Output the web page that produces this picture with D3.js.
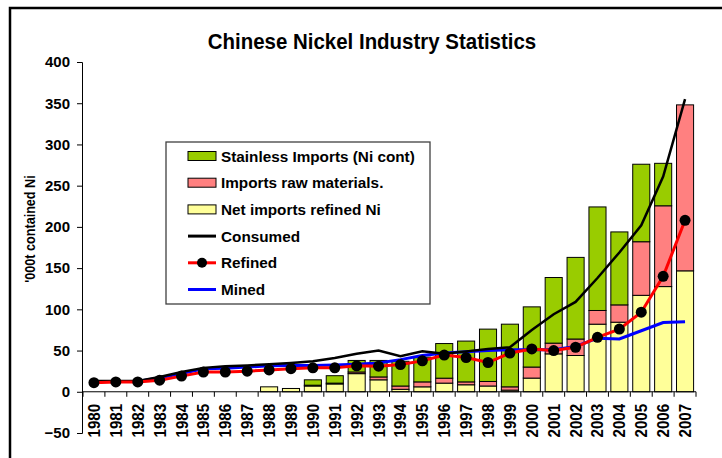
<!DOCTYPE html>
<html>
<head>
<meta charset="utf-8">
<script src="https://cdn.jsdelivr.net/npm/d3@7"></script>
<style>
  body { margin: 0; background: #fff; }
  text { font-family: "Liberation Sans", Arial, sans-serif; font-weight: bold; fill: #000; }
</style>
</head>
<body>
<div id="chart"></div>
<script>
// chart data, '000t contained Ni
var years = ["1980","1981","1982","1983","1984","1985","1986","1987","1988","1989",
             "1990","1991","1992","1993","1994","1995","1996","1997","1998","1999",
             "2000","2001","2002","2003","2004","2005","2006","2007"];
var netRefined = [0,0,0,0,0,0,0,0,6,4,
                  7,9.5,22,14.5,3,6,10.5,8.5,7,2,
                  16.6,46,44,82,84.4,117,127.6,146.7];
var rawMaterials = [0,0,0,0,0,0,0,0,0,0,
                    1,1,2,3.5,4,6,6,3.5,5.5,4,
                    13.4,13,20,16.6,21,65,98,201.3];
var stainless = [0,0,0,0,0,0,0,0,0,0,
                 6.5,9,14,20,30,30,42,49.5,63.5,76,
                 73,79.6,99,125.6,88.5,94,51.5,0];
var consumed = [13,13,13,18,24,29,31,32,33.5,35,
                37,41,46,50,43,49,46,49,52,54,
                75,94,109,138,169,202,261,355];
var refined = [11,12,12,14,19,24,24,25,26.5,28,
               29,29,31.5,31,33,37.5,44.5,41.5,35.5,47,
               52,50,54,66,76,96.5,140,208];
var mined = [12.5,12.5,12.5,17,22,28,28.5,30,31.5,32,
             32,32.5,33.5,35,39,44,47,48.5,50,51,
             51,51,55,65,64,74,84,85];
var yTicks = [-50,0,50,100,150,200,250,300,350,400];

var barKeys = ["net","raw","stain"];
var barColors = {net: "#FFFF99", raw: "#FF8080", stain: "#99CC00"};

var width = 722, height = 458;

var svg = d3.select("#chart").append("svg")
  .attr("width", width)
  .attr("height", height);

// outer frame
svg.append("rect")
  .attr("x", 10).attr("y", 8)
  .attr("width", 760).attr("height", 500)
  .attr("fill", "none")
  .attr("stroke", "#000")
  .attr("stroke-width", 2.5);

var x = d3.scaleBand().domain(years).range([83, 696]).paddingInner(0.22).paddingOuter(0.11);
var y = d3.scaleLinear().domain([-50, 400]).range([433, 62]);

// build rows for the stack
var rows = years.map(function(yr, i) {
  return {year: yr, net: netRefined[i], raw: rawMaterials[i], stain: stainless[i]};
});
var stacked = d3.stack().keys(barKeys)(rows);

svg.append("g")
  .selectAll("g")
  .data(stacked)
  .enter().append("g")
  .attr("fill", function(d) { return barColors[d.key]; })
  .selectAll("rect")
  .data(function(d) { return d.filter(function(p) { return p[1] - p[0] > 0; }); })
  .enter().append("rect")
  .attr("x", function(d) { return x(d.data.year); })
  .attr("y", function(d) { return y(d[1]); })
  .attr("width", x.bandwidth())
  .attr("height", function(d) { return y(d[0]) - y(d[1]); })
  .attr("stroke", "#000")
  .attr("stroke-width", 1);

// y axis
var yAxis = svg.append("g")
  .attr("transform", "translate(82,0)")
  .call(d3.axisLeft(y).tickValues(yTicks).tickSize(5).tickPadding(7));
yAxis.select(".domain").attr("stroke", "#000");
yAxis.selectAll("text").style("font-size", "15px").style("font-family", "Liberation Sans, Arial, sans-serif").style("font-weight", "bold");

// x axis at zero, ticks between categories
svg.append("line")
  .attr("x1", 83).attr("x2", 696)
  .attr("y1", y(0)).attr("y2", y(0))
  .attr("stroke", "#000");
svg.append("g")
  .selectAll("line")
  .data(years.concat(["end"]))
  .enter().append("line")
  .attr("x1", function(d, i) { return i < years.length ? x(d) - x.step() * x.paddingInner() / 2 : 696; })
  .attr("x2", function(d, i) { return i < years.length ? x(d) - x.step() * x.paddingInner() / 2 : 696; })
  .attr("y1", y(0)).attr("y2", y(0) + 5)
  .attr("stroke", "#000");

// year labels, slightly condensed like the original
svg.append("g")
  .selectAll("text")
  .data(years)
  .enter().append("text")
  .attr("transform", function(d) { return "translate(" + (x(d) + x.bandwidth() / 2 + 6) + "," + (y(0) + 12) + ") rotate(-90) scale(0.92,1)"; })
  .attr("text-anchor", "end")
  .style("font-size", "16.5px")
  .text(function(d) { return d; });

// lines
function cx(i) { return x(years[i]) + x.bandwidth() / 2; }
var line = d3.line()
  .x(function(d, i) { return cx(i); })
  .y(function(d) { return y(d); });

svg.append("path").datum(mined)
  .attr("d", line).attr("fill", "none")
  .attr("stroke", "#0000FF").attr("stroke-width", 3);
svg.append("path").datum(consumed)
  .attr("d", line).attr("fill", "none")
  .attr("stroke", "#000").attr("stroke-width", 2.5);
svg.append("path").datum(refined)
  .attr("d", line).attr("fill", "none")
  .attr("stroke", "#FF0000").attr("stroke-width", 3);
svg.append("g")
  .selectAll("circle")
  .data(refined)
  .enter().append("circle")
  .attr("cx", function(d, i) { return cx(i); })
  .attr("cy", function(d) { return y(d); })
  .attr("r", 5.5)
  .attr("fill", "#000");

// title
svg.append("text")
  .attr("transform", "translate(372,49) scale(0.93,1)")
  .attr("text-anchor", "middle")
  .style("font-size", "22px")
  .text("Chinese Nickel Industry Statistics");

// y axis title
svg.append("text")
  .attr("transform", "translate(35,229) rotate(-90) scale(0.87,1)")
  .attr("text-anchor", "middle")
  .style("font-size", "14.5px")
  .text("'000t contained Ni");

// legend
var legendItems = [
  {label: "Stainless Imports (Ni cont)", type: "bar", color: barColors.stain},
  {label: "Imports raw materials.", type: "bar", color: barColors.raw},
  {label: "Net imports refined Ni", type: "bar", color: barColors.net},
  {label: "Consumed", type: "line", color: "#000"},
  {label: "Refined", type: "dot", color: "#FF0000"},
  {label: "Mined", type: "line", color: "#0000FF"}
];
var legend = svg.append("g");
legend.append("rect")
  .attr("x", 166).attr("y", 142)
  .attr("width", 264).attr("height", 162)
  .attr("fill", "#fff")
  .attr("stroke", "#404040")
  .attr("stroke-width", 1.3);
var li = legend.selectAll(".item")
  .data(legendItems)
  .enter().append("g")
  .attr("class", "item")
  .attr("transform", function(d, i) { return "translate(188," + (156 + i * 26.7) + ")"; });
li.filter(function(d) { return d.type == "bar"; })
  .append("rect")
  .attr("x", 0).attr("y", -4.5)
  .attr("width", 28).attr("height", 9)
  .attr("fill", function(d) { return d.color; })
  .attr("stroke", "#000");
li.filter(function(d) { return d.type != "bar"; })
  .append("line")
  .attr("x1", 0).attr("x2", 28)
  .attr("stroke", function(d) { return d.color; })
  .attr("stroke-width", 3);
li.filter(function(d) { return d.type == "dot"; })
  .append("circle")
  .attr("cx", 14).attr("r", 5)
  .attr("fill", "#000");
li.append("text")
  .attr("x", 33).attr("y", 5.5)
  .style("font-size", "15.3px")
  .text(function(d) { return d.label; });
</script>
</body>
</html>
